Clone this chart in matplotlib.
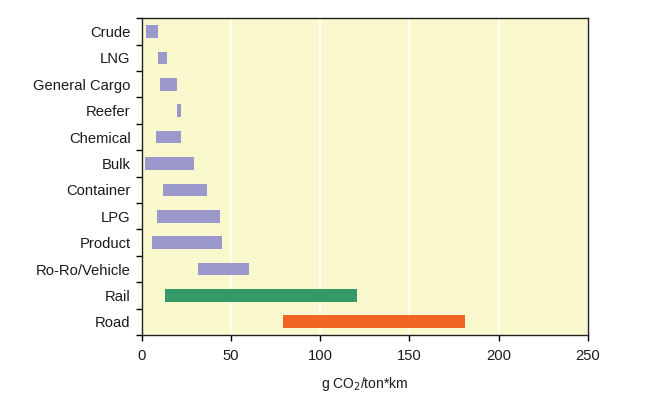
import numpy as np
import matplotlib
matplotlib.use("Agg")
import matplotlib.pyplot as plt

plt.rcParams['font.family'] = ['Liberation Sans', 'DejaVu Sans']

# du lieu: khoang phat thai (g CO2 / ton*km)
categories = ["Crude", "LNG", "General Cargo", "Reefer", "Chemical", "Bulk",
              "Container", "LPG", "Product", "Ro-Ro/Vehicle", "Rail", "Road"]
low = [2.5, 9.2, 10.3, 19.8, 8.0, 1.9, 12.0, 8.6, 5.8, 31.7, 13.1, 79.4]
high = [9.2, 14.2, 19.8, 22.1, 22.1, 29.4, 36.7, 44.0, 45.1, 60.3, 120.4, 181.1]
kind = ["ship"] * 10 + ["rail", "road"]

colors = {"ship": "#9b98cc", "rail": "#339966", "road": "#f26522"}

fig = plt.figure(figsize=(6.7, 3.93), dpi=100)
ax = fig.add_axes([0.2115, 0.1476, 0.6657, 0.8058])
ax.set_facecolor("#faf8cd")

y = np.arange(len(categories))
widths = np.array(high) - np.array(low)
ax.barh(y, widths, left=low, height=0.48,
        color=[colors[k] for k in kind], zorder=3)

ax.set_xlim(0, 250)
ax.set_ylim(len(categories) - 0.5, -0.5)
ax.set_xticks([0, 50, 100, 150, 200, 250])
ax.xaxis.grid(True, color="white", linewidth=1.2, zorder=1)

# nhan o giua, vach o bien
ax.set_yticks(y)
ax.set_yticklabels(categories, fontsize=10.6, color="#1a1a1a")
ax.set_yticks(np.arange(-0.5, len(categories)), minor=True)
ax.tick_params(axis='y', which='major', length=0, pad=8)
ax.tick_params(axis='y', which='minor', length=4, width=1, direction='out')
ax.tick_params(axis='x', length=4, width=1, labelsize=10.6, pad=6,
               labelcolor="#1a1a1a")

for s in ax.spines.values():
    s.set_color("#222222")
    s.set_linewidth(1.0)

ax.set_xlabel("g CO$_2$/ton*km", fontsize=10, labelpad=9, color="#1a1a1a")

fig.savefig("out.png", dpi=100)
